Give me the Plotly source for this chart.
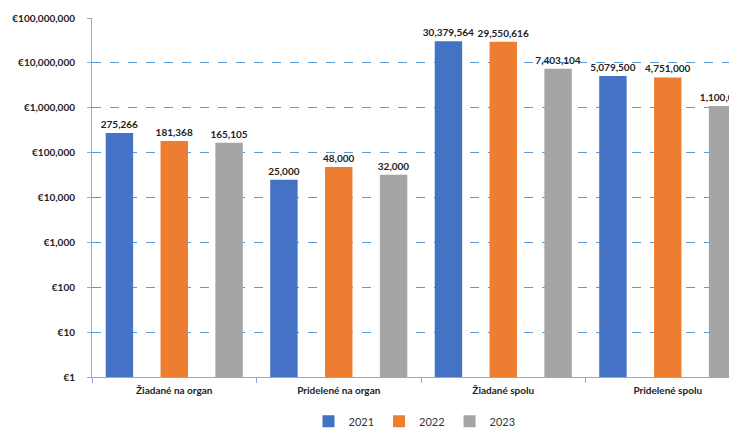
import plotly.graph_objects as go

categories = ["Žiadané na organ", "Pridelené na organ", "Žiadané spolu", "Pridelené spolu"]
years = ["2021", "2022", "2023"]
values_2021 = [275266, 25000, 30379564, 5079500]
values_2022 = [181368, 48000, 29550616, 4751000]
values_2023 = [165105, 32000, 7403104, 1100000]
colors = ["#4472C4", "#ED7D31", "#A5A5A5"]
tick_vals = [1, 10, 100, 1000, 10000, 100000, 1000000, 10000000, 100000000]
tick_text = ["€" + f"{v:,}" for v in tick_vals]

series = [values_2021, values_2022, values_2023]

fig = go.Figure()
for name, vals, col in zip(years, series, colors):
    fig.add_trace(go.Bar(
        name=name, x=categories, y=vals,
        marker=dict(color=col, line=dict(width=0)),
        text=[f"{v:,}" for v in vals],
        textposition="outside",
        constraintext="none",
        textfont=dict(family="Lato", size=10, color="#222222", weight="bold"),
        cliponaxis=True,
    ))

fig.update_layout(
    width=737, height=430,
    margin=dict(l=84, r=8, t=10, b=61, autoexpand=False),
    paper_bgcolor="white", plot_bgcolor="white",
    barmode="group", bargap=0.0, bargroupgap=0.5,
    font=dict(family="Lato", size=11, color="#222222"),
    showlegend=True,
    legend=dict(orientation="h", x=0.5, xanchor="center", y=-0.083, yanchor="top",
                font=dict(family="Lato", size=11, color="#333333"),
                itemwidth=30, tracegroupgap=0, traceorder="normal"),
)
fig.update_xaxes(
    range=[-0.5, -0.5 + 645 / 164.5], automargin=False,
    showline=True, linecolor="#8EA9DB", linewidth=1,
    ticks="outside", tickson="boundaries", ticklen=5, tickcolor="#8EA9DB",
    tickfont=dict(family="Lato", size=10, color="#222222", weight="bold"),
    ticklabelstandoff=4,
    showgrid=False,
)
fig.update_yaxes(
    type="log", range=[0, 8], automargin=False,
    tickvals=tick_vals, ticktext=tick_text,
    tickfont=dict(family="Lato", size=10, color="#222222", weight="bold"),
    showline=True, linecolor="#8EA9DB", linewidth=1,
    ticks="outside", ticklen=4, tickcolor="#8EA9DB",
    showgrid=True, gridcolor="#5B9BD5", griddash="dash", gridwidth=1,
    zeroline=False, ticklabelstandoff=10,
)

fig.write_html("out.html")
